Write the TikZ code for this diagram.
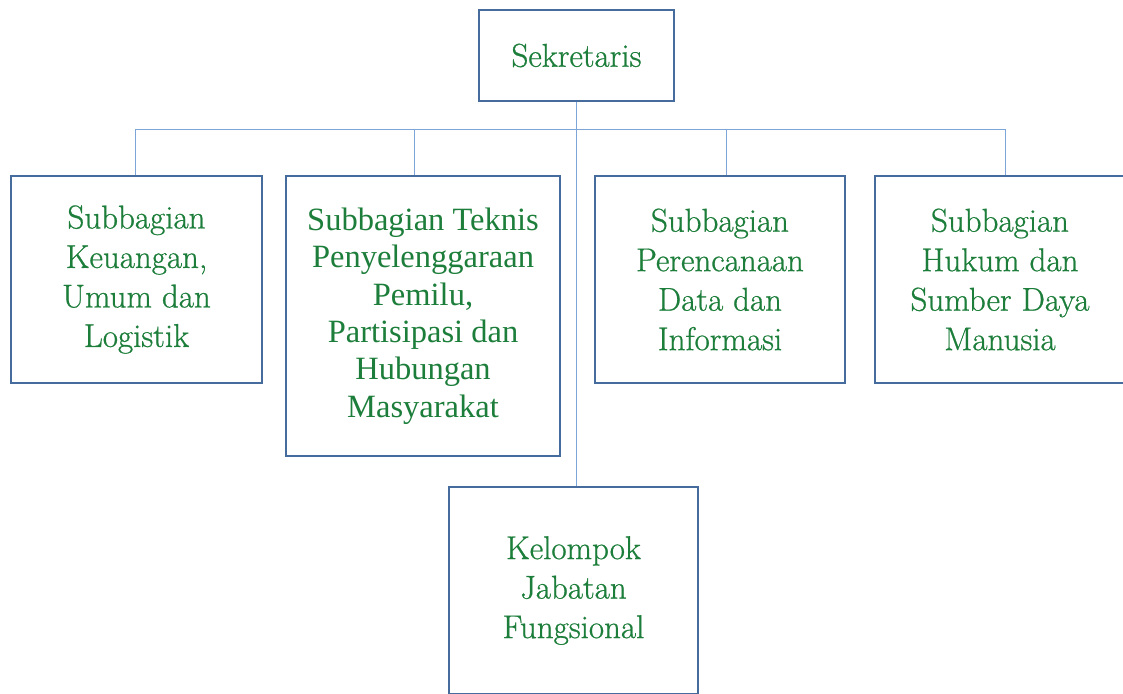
\documentclass[tikz,border=0pt]{standalone}
\usepackage{fontspec}
\setmainfont{Latin Modern Roman}[FakeBold=0.7]
\newfontfamily\timesfont{Liberation Serif}
\usetikzlibrary{positioning}
\definecolor{boxblue}{RGB}{70,108,158}
\definecolor{lineblue}{RGB}{125,165,215}
\definecolor{textgreen}{RGB}{28,126,58}

\begin{document}
\begin{tikzpicture}[x=1pt, y=-1pt,
    unit/.style={draw=boxblue, line width=2.8pt, fill=white, text=textgreen,
        align=center, inner sep=2pt, font=\fontsize{33}{39.5}\selectfont},
    link/.style={draw=lineblue, line width=0.9pt}]
    \useasboundingbox (0,0) rectangle (1123,693);
    \clip (0,0) rectangle (1123,693);

    % Sekretaris
    \node[unit, minimum width=195, minimum height=91] (sek) at (576.5,55.5) {Sekretaris};

    % Subbagian
    \node[unit, minimum width=251, minimum height=207] (keu) at (136.5,279.5)
        {Subbagian\\Keuangan,\\Umum dan\\Logistik};
    \node[unit, minimum width=274, minimum height=280,
        font=\timesfont\fontsize{32.5}{37.4}\selectfont] (tek) at (423,316)
        {Subbagian Teknis\\Penyelenggaraan\\Pemilu,\\Partisipasi dan\\Hubungan\\Masyarakat};
    \node[unit, minimum width=250, minimum height=207] (ren) at (720,279.5)
        {Subbagian\\Perencanaan\\Data dan\\Informasi};
    \node[unit, minimum width=250, minimum height=207] (huk) at (1000,279.5)
        {Subbagian\\Hukum dan\\Sumber Daya\\Manusia};

    % Kelompok
    \node[unit, minimum width=249, minimum height=207] (kel) at (573.5,590.5)
        {Kelompok\\Jabatan\\Fungsional};

    % connectors
    \coordinate (bus) at (576.5,129);
    \draw[link] (sek.south) -- (bus) -| ([xshift=-1.5pt]keu.north);
    \draw[link] (sek.south) -- (bus) -| ([xshift=-9pt]tek.north);
    \draw[link] (sek.south) -- (bus) -| ([xshift=6pt]ren.north);
    \draw[link] (sek.south) -- (bus) -| ([xshift=5pt]huk.north);
    \draw[link] (sek.south) -- (sek.south |- kel.north);
\end{tikzpicture}
\end{document}
